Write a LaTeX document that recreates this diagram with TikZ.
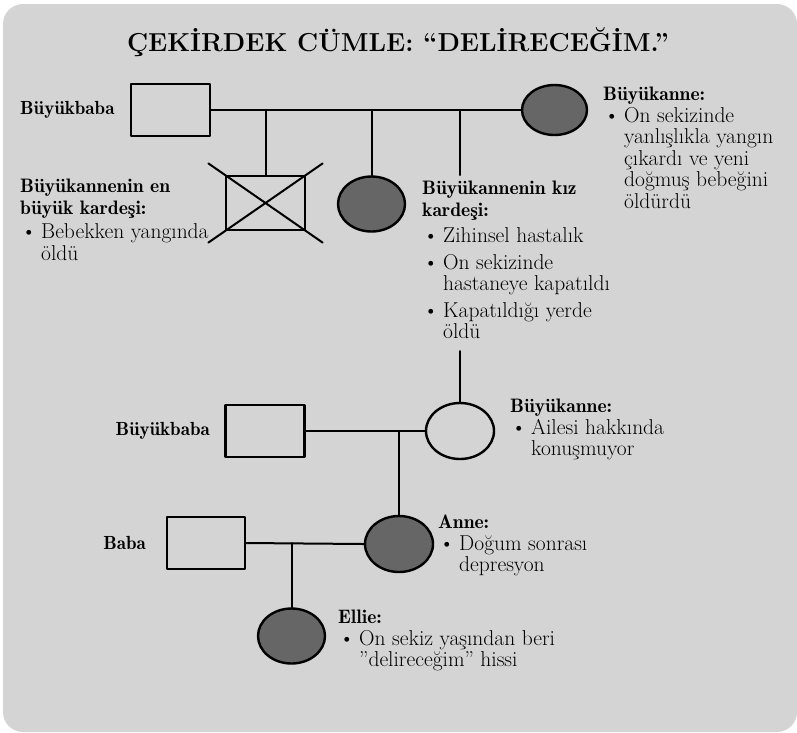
\documentclass[tikz,border=0pt]{standalone}
\usepackage{tikz}
\usetikzlibrary{shapes.geometric}
\definecolor{zemin}{rgb}{0.83,0.83,0.83}
\definecolor{koyu}{rgb}{0.40,0.40,0.40}
\newcommand{\mad}{\makebox[21pt][l]{\hspace{1pt}\textbullet}}
\newcommand{\ici}{\hspace*{21pt}}
\newcommand{\kalin}[1]{{\fontsize{19.5}{21.5}\fontseries{b}\selectfont #1}}

\begin{document}
\begin{tikzpicture}[line cap=round,line join=round,x=1pt,y=-1pt,
	erkek/.style={draw,line width=2.4pt,minimum width=79pt,minimum height=52pt,inner sep=0pt},
	kadin/.style={ellipse,draw,line width=2.4pt,minimum width=67pt,minimum height=55pt,inner sep=0pt},
	hasta/.style={kadin,fill=koyu},
	hat/.style={line width=2pt},
	etiket/.style={anchor=north west,align=left,inner sep=0pt,font=\fontsize{21.5}{21.5}\selectfont},
	ad/.style={inner sep=0pt,font=\fontsize{19}{21.5}\fontseries{b}\selectfont}]
	\useasboundingbox (0,0) rectangle (797,732);
	\fill[zemin,rounded corners=20pt] (3,4) rectangle (797,732);
	\node[font=\fontsize{26}{30}\selectfont\bfseries] (baslik) at (398,42) {ÇEKİRDEK CÜMLE: “DELİRECEĞİM.”};
	% ilk kusak
	\node[erkek] (bb1) at (170.5,110) {};
	\node[hasta,minimum width=65pt,minimum height=50pt] (ba1) at (554.5,110) {};
	\node[erkek,minimum height=54pt] (ol) at (265.5,203) {};
	\node[hasta] (kk) at (371.5,204) {};
	\draw[hat] (bb1.east) -- (ba1.west);
	\draw[hat] (ol.north) -- (ol.north |- bb1.east);
	\draw[hat] (kk.north) -- (kk.north |- bb1.east);
	\draw[hat,shorten <=-20pt,shorten >=-20pt] (ol.north west) -- (ol.south east);
	\draw[hat,shorten <=-20pt,shorten >=-20pt] (ol.north east) -- (ol.south west);
	% ikinci kusak
	\node[erkek] (bb2) at (265,431) {};
	\node[kadin,minimum width=68pt,minimum height=56pt] (ba2) at (460,431) {};
	\node[hasta,minimum width=68pt,minimum height=56pt] (an) at (399,544) {};
	\node[erkek,minimum width=78pt] (bab) at (206,543) {};
	\node[hasta] (el) at (291.5,636) {};
	\coordinate (k1) at (460,175);
	\coordinate (k2) at (460,351);
	\draw[hat] (ba2 |- bb1.east) -- (k1);
	\draw[hat] (k2) -- (ba2.north);
	\draw[hat] (bb2.east) -- (ba2.west);
	\draw[hat] (an.north) -- (an.north |- bb2.east);
	\draw[hat] (bab.east) -- (an.west);
	\draw[hat] (el.north) -- (el.north |- bab.east);
	% etiketler
	\node[ad,anchor=west] (bb1ad) at (20,110) {Büyükbaba};
	\node[ad,anchor=east] (bb2ad) at (210,431) {Büyükbaba};
	\node[ad,anchor=east] (babad) at (146,543) {Baba};
	\node[etiket] (ba1et) at (603,87) {\kalin{Büyükanne:}\\
		\mad On sekizinde\\ \ici yanlışlıkla yangın\\ \ici çıkardı ve yeni\\ \ici doğmuş bebeğini\\ \ici öldürdü};
	\node[etiket] (olet) at (20,179) {\kalin{Büyükannenin en}\\ \kalin{büyük kardeşi:}\\[3pt]
		\mad Bebekken yangında\\ \ici öldü};
	\node[etiket] (kket) at (422,181) {\kalin{Büyükannenin kız}\\ \kalin{kardeşi:}\\[5pt]
		\mad Zihinsel hastalık\\[5pt] \mad On sekizinde\\ \ici hastaneye kapatıldı\\[5pt]
		\mad Kapatıldığı yerde\\ \ici öldü};
	\node[etiket] (ba2et) at (510,399) {\kalin{Büyükanne:}\\
		\mad Ailesi hakkında\\ \ici konuşmuyor};
	\node[etiket] (anet) at (438,515) {\kalin{Anne:}\\
		\mad Doğum sonrası\\ \ici depresyon};
	\node[etiket] (elet) at (338,610) {\kalin{Ellie:}\\
		\mad On sekiz yaşından beri\\ \ici ”delireceğim” hissi};
\end{tikzpicture}
\end{document}
